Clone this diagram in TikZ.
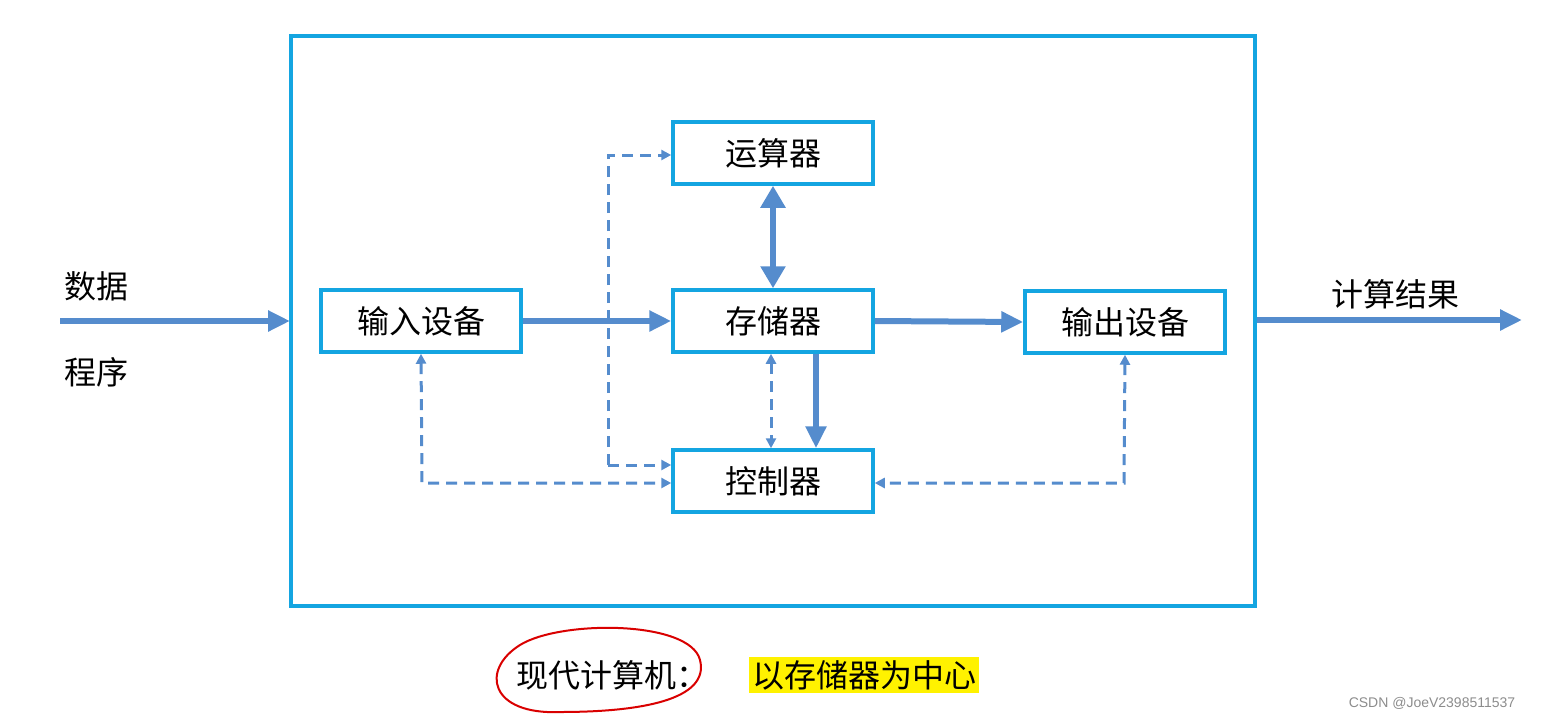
\documentclass[tikz,border=0pt]{standalone}
\usepackage{fontspec}
\setmainfont{Noto Sans CJK SC}
\usetikzlibrary{arrows.meta}
\definecolor{boxc}{RGB}{20,165,225}
\definecolor{arr}{RGB}{85,140,205}
\begin{document}
\begin{tikzpicture}[x=1pt,y=-1pt,
  unit/.style={draw=boxc,line width=3.5pt,fill=white,minimum width=200pt,minimum height=62pt,inner sep=0pt,font=\fontsize{32}{32}\selectfont},
  thick arrow/.style={arr,line width=6pt,-{Triangle[length=22pt,width=20pt]}},
  dash arrow/.style={arr,line width=3pt,dash pattern=on 11pt off 7pt,-{Triangle[length=10pt,width=10pt]}},
  lbl/.style={font=\fontsize{32}{32}\selectfont}]
\useasboundingbox (0,0) rectangle (1557,720);
\draw[boxc,line width=3.5pt] (291,36) rectangle (1255,606);
\node[unit] (alu) at (773,153) {运算器};
\node[unit] (mem) at (773,321) {存储器};
\node[unit] (ctl) at (773,481) {控制器};
\node[unit] (in) at (421,321) {输入设备};
\node[unit] (out) at (1125,322) {输出设备};
\coordinate (src) at (60,321);
\coordinate (outer-l) at (290,321);
\coordinate (outer-r) at (1257,320);
\coordinate (dst) at (1522,320);
\node[lbl] (d1) at (96,286) {数据};
\node[lbl] (d2) at (96,372) {程序};
\node[lbl] (res) at (1395,294) {计算结果};
\draw[thick arrow] (src) -- (outer-l);
\draw[thick arrow] (in.east) -- (mem.west);
\draw[thick arrow] (mem.east) -- (out.west);
\draw[thick arrow] (outer-r) -- (dst);
\draw[arr,line width=6pt,{Triangle[length=22pt,width=24pt]}-{Triangle[length=22pt,width=24pt]}] (alu.south) -- (mem.north);
\draw[thick arrow] ([xshift=43pt]mem.south) -- ([xshift=43pt]ctl.north);
\draw[dash arrow,{Triangle[length=10pt,width=10pt]}-{Triangle[length=10pt,width=10pt]}] ([xshift=-2pt]mem.south) -- ([xshift=-2pt]ctl.north);
\coordinate (c1) at (608,155);
\coordinate (c2) at (608,465);
\draw[dash arrow] (c2) -- (c1) -- (alu.west|-c1);
\draw[dash arrow] (c2) -- (ctl.west|-c2);
\coordinate (c3) at (422,483);
\draw[dash arrow,{Triangle[length=10pt,width=10pt]}-{Triangle[length=10pt,width=10pt]}] (in.south) -- (c3) -- (ctl.west|-c3);
\coordinate (c4) at (1124,483);
\draw[dash arrow,{Triangle[length=10pt,width=10pt]}-{Triangle[length=10pt,width=10pt]}] (out.south) -- (c4) -- (ctl.east|-c4);
\node[fill=yellow,inner xsep=3pt,inner ysep=3pt,lbl] (hl) at (864,675) {以存储器为中心};
\node[lbl,anchor=east] (mc) at (712,675) {现代计算机：};
\draw[red!85!black,line width=2pt] (700,660) .. controls (690,620) and (560,620) .. (520,645) .. controls (480,670) and (490,715) .. (560,712) .. controls (640,712) and (710,700) .. (700,660);
\node[gray!90,font=\fontsize{14}{14}\selectfont\fontspec{Liberation Sans}] (wm) at (1432,703) {CSDN @JoeV2398511537};
\end{tikzpicture}
\end{document}
